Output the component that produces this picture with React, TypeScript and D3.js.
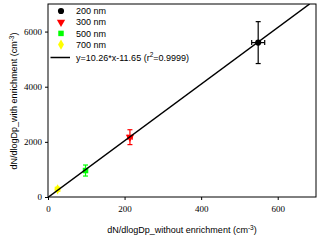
import { useEffect, useRef } from 'react';
import { select, scaleLinear, axisBottom, axisLeft, format, symbol, symbolCircle, symbolTriangle, symbolSquare, symbolDiamond } from 'd3';

const W = 320;
const H = 240;
const margin = { top: 4, right: 4, bottom: 43, left: 48 };

const sizes = ['200 nm', '300 nm', '500 nm', '700 nm'];
const colors = ['#000000', '#ff0000', '#00ff00', '#ffff00'];
const xVals = [549, 214, 98, 25];
const xErr = [17, 6, 5, 6];
const yVals = [5600, 2170, 960, 280];
const yErr = [760, 270, 200, 70];
const xTicks = [0, 200, 400, 600];
const yTicks = [0, 2000, 4000, 6000];
const slope = 10.26;
const intercept = -11.65;

function App() {
  const ref = useRef<SVGSVGElement>(null);

  useEffect(() => {
    const svg = select(ref.current);
    svg.selectAll('*').remove();
    const iw = W - margin.left - margin.right;
    const ih = H - margin.top - margin.bottom;
    const x = scaleLinear().domain([0, 700]).range([0, iw]);
    const y = scaleLinear().domain([0, 7000]).range([ih, 0]);
    const sans = 'Liberation Sans, Arial, sans-serif';

    const g = svg.append('g').attr('transform', `translate(${margin.left},${margin.top})`);

    g.append('defs').append('clipPath').attr('id', 'plotclip')
      .append('rect').attr('width', iw).attr('height', ih);

    // axes
    const xa = g.append('g').attr('transform', `translate(0,${ih})`)
      .call(axisBottom(x).tickValues(xTicks).tickFormat(format('d')).tickSize(3).tickPadding(6));
    const ya = g.append('g').call(axisLeft(y).tickValues(yTicks).tickFormat(format('d')).tickSize(3).tickPadding(3));
    [xa, ya].forEach((a) => {
      a.select('.domain').remove();
      a.selectAll('text').attr('font-family', 'Liberation Serif, serif').attr('font-size', 9).attr('fill', '#000');
    });

    g.append('rect').attr('width', iw).attr('height', ih)
      .attr('fill', 'none').attr('stroke', '#000').attr('stroke-width', 1);

    const types = [symbolCircle, symbolTriangle, symbolSquare, symbolDiamond];

    // error bars and markers
    sizes.forEach((s, i) => {
      const cx = x(xVals[i]);
      const cy = y(yVals[i]);
      const c = colors[i];
      const eg = g.append('g').attr('stroke', c).attr('stroke-width', 1.2);
      const y1 = y(yVals[i] + yErr[i]);
      const y2 = y(yVals[i] - yErr[i]);
      const x1 = x(xVals[i] - xErr[i]);
      const x2 = x(xVals[i] + xErr[i]);
      eg.append('line').attr('x1', cx).attr('x2', cx).attr('y1', y1).attr('y2', y2);
      eg.append('line').attr('x1', cx - 2.5).attr('x2', cx + 2.5).attr('y1', y1).attr('y2', y1);
      eg.append('line').attr('x1', cx - 2.5).attr('x2', cx + 2.5).attr('y1', y2).attr('y2', y2);
      eg.append('line').attr('x1', x1).attr('x2', x2).attr('y1', cy).attr('y2', cy);
      eg.append('line').attr('x1', x1).attr('x2', x1).attr('y1', cy - 2.5).attr('y2', cy + 2.5);
      eg.append('line').attr('x1', x2).attr('x2', x2).attr('y1', cy - 2.5).attr('y2', cy + 2.5);
      const rot = i === 1 ? 180 : 0;
      g.append('path')
        .attr('d', symbol().type(types[i]).size(30)())
        .attr('transform', `translate(${cx},${cy}) rotate(${rot})`)
        .attr('fill', c);
    });

    // regression line
    const xEnd = (7000 - intercept) / slope;
    g.append('line')
      .attr('clip-path', 'url(#plotclip)')
      .attr('x1', x(0)).attr('y1', y(intercept))
      .attr('x2', x(xEnd)).attr('y2', y(slope * xEnd + intercept))
      .attr('stroke', '#000').attr('stroke-width', 1.5);

    // legend
    const lg = svg.append('g').attr('font-family', sans).attr('font-size', 9);
    sizes.forEach((s, i) => {
      const ry = 11 + i * 11.2;
      const rot = i === 1 ? 180 : 0;
      lg.append('path')
        .attr('d', symbol().type(types[i]).size(30)())
        .attr('transform', `translate(61,${ry}) rotate(${rot})`)
        .attr('fill', colors[i]);
      lg.append('text').attr('x', 76).attr('y', ry).attr('dy', '0.35em').text(s);
    });
    const ly = 57.5;
    lg.append('line').attr('x1', 50.5).attr('x2', 70).attr('y1', ly).attr('y2', ly)
      .attr('stroke', '#000').attr('stroke-width', 1.5);
    const ft = lg.append('text').attr('x', 76).attr('y', ly).attr('dy', '0.35em');
    ft.append('tspan').text(`y=${slope}*x${intercept} (r`);
    ft.append('tspan').attr('dy', -3.5).attr('font-size', 6.5).text('2');
    ft.append('tspan').attr('dy', 3.5).text('=0.9999)');

    // axis titles
    const xt = svg.append('text')
      .attr('x', margin.left + iw / 2).attr('y', 233)
      .attr('text-anchor', 'middle')
      .attr('font-family', sans).attr('font-size', 9);
    xt.append('tspan').text('dN/dlogDp_without enrichment (cm');
    xt.append('tspan').attr('dy', -3.5).attr('font-size', 6.5).text('-3');
    xt.append('tspan').attr('dy', 3.5).text(')');

    const yt = svg.append('text')
      .attr('transform', `translate(17,101) rotate(-90)`)
      .attr('text-anchor', 'middle')
      .attr('font-family', sans).attr('font-size', 9);
    yt.append('tspan').text('dN/dlogDp_with enrichment (cm');
    yt.append('tspan').attr('dy', -3.5).attr('font-size', 6.5).text('-3');
    yt.append('tspan').attr('dy', 3.5).text(')');
  }, []);

  return (
    <svg ref={ref} width={W} height={H} style={{ position: 'absolute', left: 0, top: 0, background: '#fff' }} />
  );
}

export default App;
